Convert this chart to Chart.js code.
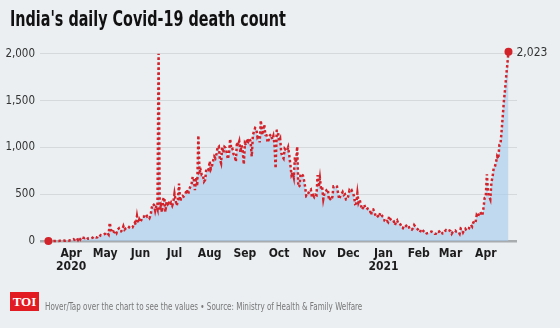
<!DOCTYPE html>
<html>
<head>
<meta charset="utf-8">
<title>India's daily Covid-19 death count</title>
<script src="https://cdn.jsdelivr.net/npm/chart.js@4/dist/chart.umd.min.js"></script>
<style>
    html, body { margin: 0; padding: 0; background: #ebeff2; }
    #wrap { position: relative; width: 560px; height: 328px; overflow: hidden; background: #ebeff2; }
    #deathChart { position: absolute; left: 0; top: 0; }
    .chart-title {
        position: absolute; left: 10px; top: 7px;
        font-family: 'Liberation Sans Narrow', 'DejaVu Sans Condensed', 'Roboto', sans-serif;
        font-weight: bold; font-size: 21px; color: #111;
        white-space: nowrap; transform: scaleX(0.76); transform-origin: left top;
    }
    .toi-badge {
        position: absolute; left: 10px; top: 292px; width: 29px; height: 19px;
        background: #e21b23; color: #fff; text-align: center;
        font-family: 'Liberation Serif', 'DejaVu Serif', serif; font-weight: bold; font-size: 13px; line-height: 20px;
    }
    .chart-note {
        position: absolute; left: 45px; top: 300px;
        font-family: 'Liberation Sans Narrow', 'DejaVu Sans Condensed', 'Roboto', sans-serif;
        font-size: 11px; color: #777; white-space: nowrap;
        transform: scaleX(0.725); transform-origin: left top;
    }
</style>
</head>
<body>
<div id="wrap">
    <canvas id="deathChart" width="560" height="328"></canvas>
    <div class="chart-title">India's daily Covid-19 death count</div>
    <div class="toi-badge">TOI</div>
    <div class="chart-note">Hover/Tap over the chart to see the values &bull; Source: Ministry of Health &amp; Family Welfare</div>
</div>

<script>
// ============================================
// DAILY COVID-19 DEATHS, INDIA
// One value per day, starting 12 Mar 2020
// ============================================

const firstDay = '2020-03-12';

const deathsMar2020 = [1, 1, 0, 0, 0, 1, 0, 1, 1, 0, 3, 2, 1, 2, 4, 3, 5, 6, 4, 8];
const deathsApr2020 = [9, 14, 19, 13, 26, 32, 11, 35, 17, 40, 35, 34, 31, 39, 39, 23, 23, 27, 31, 36, 47, 40, 37, 39, 56, 48, 62, 60, 67, 72];
const deathsMay2020 = [77, 93, 83, 68, 195, 126, 89, 103, 95, 111, 87, 122, 134, 100, 103, 120, 157, 121, 134, 140, 132, 148, 137, 147, 146, 170, 194, 175, 265, 193, 230];
const deathsJun2020 = [204, 230, 259, 260, 273, 287, 261, 266, 246, 279, 357, 396, 386, 325, 380, 343, 2003, 334, 375, 306, 445, 465, 312, 418, 392, 407, 384, 410, 380, 418];
const deathsJul2020 = [507, 434, 379, 442, 613, 425, 467, 482, 475, 487, 519, 551, 500, 553, 582, 606, 687, 671, 543, 681, 587, 1129, 740, 757, 705, 706, 636, 654, 768, 779, 764];
const deathsAug2020 = [853, 771, 803, 857, 904, 886, 933, 1007, 1013, 871, 834, 1007, 942, 1007, 996, 944, 876, 941, 1092, 977, 984, 929, 913, 848, 1059, 1023, 1065, 948, 1023, 971, 819];
const deathsSep2020 = [1045, 1025, 1096, 1065, 1089, 1065, 903, 1133, 1172, 1209, 1201, 1114, 1136, 1054, 1290, 1132, 1174, 1247, 1133, 1130, 1053, 1085, 1129, 1141, 1089, 1124, 1039, 776, 1179, 1181];
const deathsOct2020 = [1069, 1095, 940, 903, 884, 986, 971, 963, 1000, 918, 816, 706, 730, 680, 895, 837, 1010, 579, 587, 717, 706, 702, 650, 578, 480, 488, 517, 543, 551, 470, 490];
const deathsNov2020 = [470, 496, 490, 704, 577, 670, 559, 577, 448, 512, 520, 547, 554, 435, 449, 435, 474, 585, 584, 590, 584, 511, 447, 480, 501, 524, 492, 500, 443, 443];
const deathsDec2020 = [482, 540, 524, 540, 511, 482, 396, 402, 512, 411, 442, 391, 336, 355, 387, 355, 338, 347, 341, 336, 278, 333, 336, 312, 269, 251, 264, 251, 299, 286, 264];
const deathsJan2021 = [256, 214, 201, 214, 201, 264, 234, 222, 228, 212, 170, 201, 220, 188, 191, 175, 145, 137, 162, 151, 163, 152, 163, 127, 131, 123, 137, 171, 155, 139, 127];
const deathsFeb2021 = [107, 94, 120, 127, 107, 96, 101, 81, 84, 87, 94, 101, 97, 90, 78, 77, 101, 97, 101, 113, 101, 80, 79, 104, 117, 109, 117, 113];
const deathsMar2021 = [106, 78, 98, 108, 113, 100, 96, 97, 77, 133, 126, 93, 117, 131, 112, 118, 131, 158, 172, 154, 197, 212, 199, 275, 257, 291, 312, 291, 271, 354, 459];
const deathsApr2021 = [469, 714, 513, 478, 446, 630, 685, 780, 794, 839, 904, 879, 1027, 1038, 1185, 1341, 1501, 1619, 1761, 1890, 2023];

const tickMonths = ['2020-04-01', '2020-05-01', '2020-06-01', '2020-07-01', '2020-08-01', '2020-09-01', '2020-10-01',
    '2020-11-01', '2020-12-01', '2021-01-01', '2021-02-01', '2021-03-01', '2021-04-01'];
const tickLabels = [['Apr', '2020'], 'May', 'Jun', 'Jul', 'Aug', 'Sep', 'Oct', 'Nov', 'Dec', ['Jan', '2021'], 'Feb', 'Mar', 'Apr'];
const yTicks = [0, 500, 1000, 1500, 2000];

const dailyDeaths = [].concat(
    deathsMar2020, deathsApr2020, deathsMay2020, deathsJun2020, deathsJul2020, deathsAug2020,
    deathsSep2020, deathsOct2020, deathsNov2020, deathsDec2020, deathsJan2021, deathsFeb2021,
    deathsMar2021, deathsApr2021
);

const RED = '#d2222a';
const NARROW = "'Liberation Sans Narrow', 'DejaVu Sans Condensed', 'Roboto', sans-serif";

function dayIndex(dateStr) {
    return Math.round((Date.parse(dateStr) - Date.parse(firstDay)) / 86400000);
}

const points = dailyDeaths.map((v, i) => ({ x: i, y: v }));
const tickDays = tickMonths.map(dayIndex);
const lastIndex = points.length - 1;

// value label next to the latest point
const lastValueLabel = {
    id: 'lastValueLabel',
    afterDatasetsDraw(chart) {
        const meta = chart.getDatasetMeta(0);
        const pt = meta.data[lastIndex];
        if (!pt) return;
        const ctx = chart.ctx;
        ctx.save();
        ctx.font = `12px ${NARROW}`;
        ctx.fillStyle = '#333';
        ctx.textAlign = 'left';
        ctx.textBaseline = 'middle';
        ctx.fillText(dailyDeaths[lastIndex].toLocaleString('en-US'), pt.x + 8, pt.y + 1);
        ctx.restore();
    }
};

Chart.defaults.font.family = NARROW;

new Chart(document.getElementById('deathChart'), {
    type: 'line',
    data: {
        datasets: [{
            data: points,
            borderColor: RED,
            borderWidth: 2.5,
            borderDash: [2.5, 2.5],
            backgroundColor: 'rgba(168, 204, 235, 0.62)',
            fill: 'origin',
            tension: 0,
            pointRadius: ctx => (ctx.dataIndex === 0 || ctx.dataIndex === lastIndex) ? 4 : 0,
            pointBackgroundColor: RED,
            pointBorderWidth: 0,
            clip: false
        }]
    },
    options: {
        responsive: false,
        animation: false,
        events: [],
        layout: { padding: { top: 49, right: 43, bottom: 0, left: 0 } },
        plugins: { legend: { display: false }, tooltip: { enabled: false } },
        scales: {
            x: {
                type: 'linear',
                min: -7.4,
                max: 412.5,
                afterBuildTicks: scale => { scale.ticks = tickDays.map(v => ({ value: v })); },
                afterFit: scale => { scale.height = 87; },
                grid: { display: false, drawTicks: false },
                border: { display: false },
                ticks: {
                    autoSkip: false,
                    maxRotation: 0,
                    padding: 7,
                    color: '#1c1c1c',
                    font: { size: 12, weight: 'bold', lineHeight: 1.05 },
                    callback: (value, index) => tickLabels[index]
                }
            },
            y: {
                min: 0,
                max: 2053,
                afterBuildTicks: scale => { scale.ticks = yTicks.map(v => ({ value: v })); },
                afterFit: scale => { scale.width = 40; },
                grid: {
                    drawTicks: false,
                    color: ctx => ctx.tick && ctx.tick.value === 0 ? '#a9acae' : '#d5d9dc',
                    lineWidth: ctx => ctx.tick && ctx.tick.value === 0 ? 2.5 : 1
                },
                border: { display: false },
                ticks: {
                    padding: 5,
                    color: '#333',
                    font: { size: 11.5 },
                    callback: v => v.toLocaleString('en-US')
                }
            }
        }
    },
    plugins: [lastValueLabel]
});
</script>
</body>
</html>
